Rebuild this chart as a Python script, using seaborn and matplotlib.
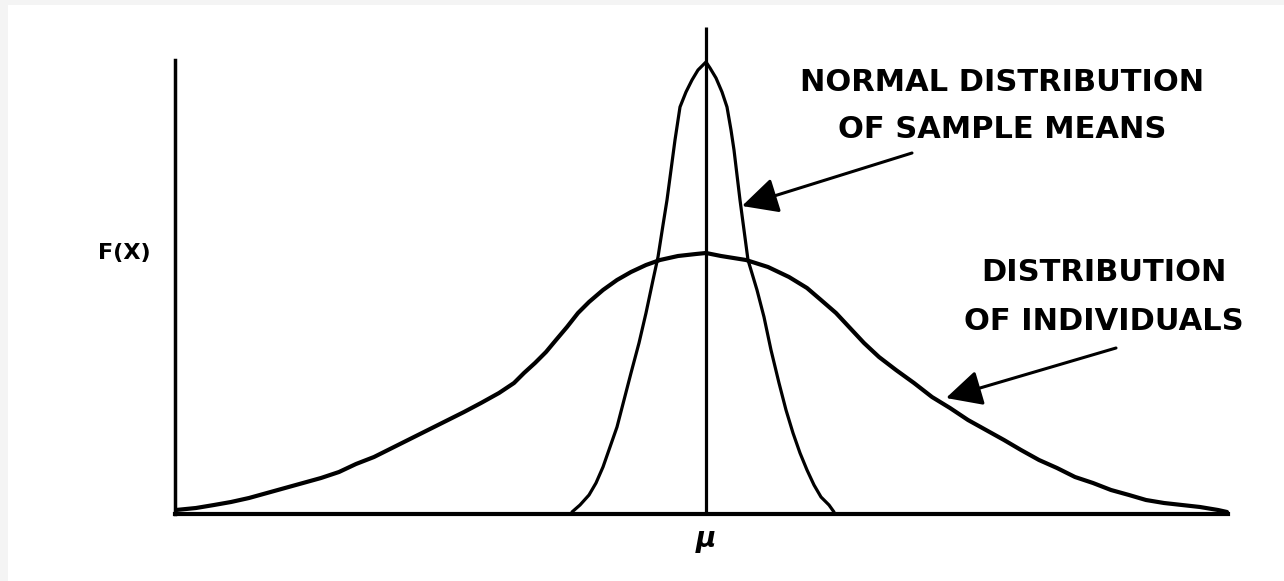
import matplotlib
matplotlib.use("Agg")
import matplotlib.pyplot as plt
from matplotlib.patches import Rectangle
import pandas as pd
import seaborn as sns

# Distribution of individuals (wide curve), x relative to the mean
indiv_x = [-5.30, -5.10, -4.92, -4.75, -4.57, -4.39, -4.21, -4.03, -3.85, -3.67,
           -3.50, -3.32, -3.14, -2.96, -2.78, -2.60, -2.42, -2.25, -2.07, -1.92,
           -1.82, -1.71, -1.60, -1.50, -1.39, -1.28, -1.17, -1.03, -0.89, -0.75,
           -0.60, -0.46, -0.28, -0.10, 0.00, 0.15, 0.40, 0.62, 0.83, 1.01,
           1.15, 1.30, 1.44, 1.58, 1.73, 1.90, 2.08, 2.26, 2.44, 2.62,
           2.80, 2.98, 3.15, 3.33, 3.51, 3.69, 3.87, 4.05, 4.23, 4.40,
           4.58, 4.76, 4.94, 5.12, 5.21]
indiv_f = [0.04, 0.06, 0.09, 0.12, 0.16, 0.21, 0.26, 0.31, 0.36, 0.42,
           0.50, 0.57, 0.66, 0.75, 0.84, 0.93, 1.02, 1.11, 1.21, 1.31,
           1.41, 1.51, 1.62, 1.74, 1.87, 2.01, 2.12, 2.24, 2.34, 2.42,
           2.49, 2.54, 2.58, 2.60, 2.61, 2.58, 2.54, 2.47, 2.37, 2.26,
           2.14, 2.01, 1.86, 1.71, 1.57, 1.44, 1.31, 1.17, 1.06, 0.94,
           0.84, 0.74, 0.64, 0.54, 0.46, 0.37, 0.31, 0.24, 0.19, 0.14,
           0.11, 0.09, 0.07, 0.04, 0.02]

# Normal distribution of sample means (narrow curve)
means_x = [-1.34, -1.26, -1.17, -1.10, -1.03, -0.96, -0.89, -0.82, -0.75, -0.67,
           -0.60, -0.53, -0.48, -0.43, -0.39, -0.35, -0.31, -0.26, -0.20, -0.14,
           -0.08, 0.00, 0.04, 0.10, 0.16, 0.21, 0.25, 0.28, 0.31, 0.34,
           0.38, 0.42, 0.51, 0.58, 0.65, 0.73, 0.80, 0.87, 0.94, 1.01,
           1.08, 1.15, 1.23, 1.28]
means_f = [0.02, 0.09, 0.19, 0.31, 0.47, 0.67, 0.87, 1.14, 1.41, 1.71,
           2.01, 2.34, 2.57, 2.89, 3.14, 3.44, 3.74, 4.07, 4.22, 4.34,
           4.44, 4.52, 4.46, 4.36, 4.22, 4.07, 3.84, 3.64, 3.39, 3.14,
           2.84, 2.54, 2.24, 1.97, 1.64, 1.31, 1.04, 0.81, 0.61, 0.44,
           0.29, 0.17, 0.09, 0.02]

MU = 0.0
MU_LINE_TOP = 4.87
X_RANGE = (-5.31, 5.22)
Y_RANGE = (0.0, 4.54)

# Labels and their arrows (arrow tail, arrow tip)
means_label = "NORMAL DISTRIBUTION\nOF SAMPLE MEANS"
means_label_pos = (2.96, 4.08)
means_arrow = ((2.06, 3.61), (0.36, 3.08))
indiv_label = "DISTRIBUTION\nOF INDIVIDUALS"
indiv_label_pos = (3.98, 2.17)
indiv_arrow = ((4.10, 1.66), (2.40, 1.16))

sns.set_theme(style="white")
plt.rcParams["font.family"] = ["DejaVu Sans"]
plt.rcParams["text.color"] = "black"

fig = plt.figure(figsize=(12.84, 5.81), dpi=100)
fig.patch.set_facecolor("white")
# light margin strips along the top and left edges
fig.patches.append(Rectangle((0, 1 - 5 / 581), 1, 5 / 581, transform=fig.transFigure,
                             facecolor="#f4f4f4", edgecolor="none", zorder=0))
fig.patches.append(Rectangle((0, 0), 8 / 1284, 1, transform=fig.transFigure,
                             facecolor="#f4f4f4", edgecolor="none", zorder=0))

ax = fig.add_axes([175 / 1284, 67 / 581, 1053 / 1284, 454 / 581])
ax.set_facecolor("none")

df_indiv = pd.DataFrame({"x": indiv_x, "f": indiv_f})
df_means = pd.DataFrame({"x": means_x, "f": means_f})

sns.lineplot(data=df_indiv, x="x", y="f", ax=ax, color="black", lw=3.0,
             sort=False, estimator=None, clip_on=False,
             solid_capstyle="round", solid_joinstyle="round")
sns.lineplot(data=df_means, x="x", y="f", ax=ax, color="black", lw=2.3,
             sort=False, estimator=None, clip_on=False,
             solid_capstyle="round", solid_joinstyle="round")

ax.vlines(MU, 0, MU_LINE_TOP, color="black", lw=2.3, clip_on=False)

ax.set_xlim(*X_RANGE)
ax.set_ylim(*Y_RANGE)

for side in ("top", "right"):
    ax.spines[side].set_visible(False)
ax.spines["left"].set_linewidth(2.5)
ax.spines["bottom"].set_linewidth(3.0)
for side in ("left", "bottom"):
    ax.spines[side].set_color("black")
    ax.spines[side].set_capstyle("projecting")

ax.set_xticks([MU])
ax.set_xticklabels(["μ"], fontsize=20, fontstyle="italic", fontweight="bold", color="black")
ax.tick_params(axis="x", length=0, pad=8, labelcolor="black")
ax.set_yticks([])
ax.set_xlabel("")
ax.set_ylabel("F(X)", rotation=0, fontsize=16, fontweight="bold", va="center",
              ha="center", color="black")
ax.yaxis.set_label_coords(-0.0484, 0.575)

text_kw = dict(fontsize=22, fontweight="bold", ha="center", va="center", color="black")
ax.text(*means_label_pos, means_label, linespacing=1.8, **text_kw)
ax.text(*indiv_label_pos, indiv_label, linespacing=1.88, **text_kw)

arrow_kw = dict(arrowstyle="-|>,head_length=1.1,head_width=0.55", color="black",
                lw=2.2, mutation_scale=20, shrinkA=0, shrinkB=0)
for tail, tip in (means_arrow, indiv_arrow):
    ax.annotate("", xy=tip, xytext=tail, arrowprops=arrow_kw, annotation_clip=False)

fig.savefig("out.png", dpi=100)
